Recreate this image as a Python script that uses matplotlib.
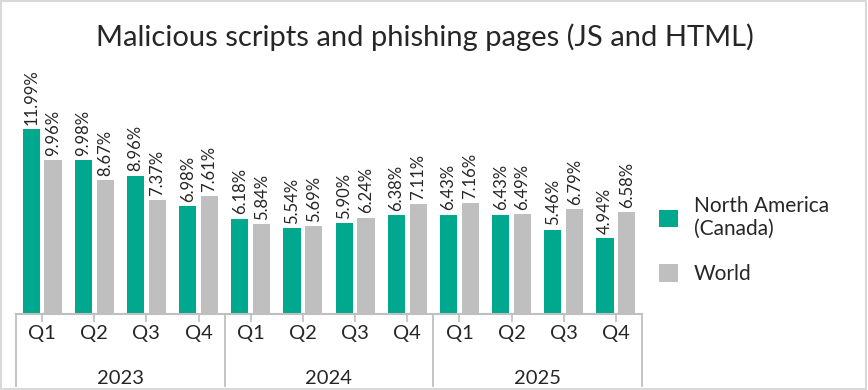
import matplotlib
matplotlib.use('Agg')
import matplotlib.pyplot as plt
import matplotlib.transforms as mtransforms
import numpy as np

# Data
years = ['2023', '2024', '2025']
quarters = ['Q1', 'Q2', 'Q3', 'Q4'] * 3
north_america = [11.99, 9.98, 8.96, 6.98, 6.18, 5.54, 5.90, 6.38, 6.43, 6.43, 5.46, 4.94]
world = [9.96, 8.67, 7.37, 7.61, 5.84, 5.69, 6.24, 7.11, 7.16, 6.49, 6.79, 6.58]
na_labels = ['11.99%', '9.98%', '8.96%', '6.98%', '6.18%', '5.54%', '5.90%', '6.38%',
             '6.43%', '6.43%', '5.46%', '4.94%']
world_labels = ['9.96%', '8.67%', '7.37%', '7.61%', '5.84%', '5.69%', '6.24%', '7.11%',
                '7.16%', '6.49%', '6.79%', '6.58%']

GREEN = '#00A88E'
GREY = '#BFBFBF'
TEXT = '#262626'
AXIS = '#BFBFBF'

plt.rcParams['font.family'] = ['Lato', 'DejaVu Sans']

fig = plt.figure(figsize=(8.68, 3.90), dpi=100)
ax = fig.add_axes([16 / 868, 76 / 390, 626 / 868, 254 / 390])

x = np.arange(len(quarters))
w = 0.33
b1 = ax.bar(x - 0.21, north_america, w, color=GREEN, label='North America\n(Canada)')
b2 = ax.bar(x + 0.21, world, w, color=GREY, label='World')

for bars, labels in ((b1, na_labels), (b2, world_labels)):
    for rect, lab in zip(bars, labels):
        ax.annotate(lab, (rect.get_x() + rect.get_width() / 2, rect.get_height()),
                    xytext=(0, 3), textcoords='offset points', rotation=90,
                    ha='center', va='bottom', fontsize=12, color=TEXT)

ax.set_xlim(-0.5, len(quarters) - 0.5)
ax.set_ylim(0, 254 / 15.45)
ax.set_yticks([])
for s in ('left', 'right', 'top'):
    ax.spines[s].set_visible(False)
ax.spines['bottom'].set_color(AXIS)
ax.spines['bottom'].set_linewidth(1.5)

ax.set_xticks(x)
ax.set_xticklabels(quarters, fontsize=14.5, color=TEXT)
ax.tick_params(axis='x', length=6, width=1.2, color=AXIS, pad=2)

# second level of the category axis: years and separators
trans = mtransforms.blended_transform_factory(ax.transData, ax.transAxes)
for i, yr in enumerate(years):
    ax.text(4 * i + 1.5, -0.255, yr, transform=trans, ha='center', va='center',
            fontsize=14.5, color=TEXT)
for xs in (-0.5, 3.5, 7.5, 11.5):
    ax.plot([xs, xs], [0, -0.285], transform=trans, color=AXIS, lw=1.3, clip_on=False)

fig.text(0.49, 0.905, 'Malicious scripts and phishing pages (JS and HTML)',
         ha='center', va='center', fontsize=21, color=TEXT)

ax.legend(loc='center left', bbox_to_anchor=(640 / 868, 1 - 240 / 390),
          bbox_transform=fig.transFigure, frameon=False, fontsize=15,
          handlelength=0.9, handleheight=0.9, labelspacing=1.2, handletextpad=0.8,
          labelcolor=TEXT)

# light frame around the whole picture
fig.patches.append(plt.Rectangle((0.001, 0.003), 0.997, 0.995, transform=fig.transFigure,
                                 fill=False, edgecolor='#D9D9D9', lw=1.5))

fig.savefig('out.png', dpi=100)
